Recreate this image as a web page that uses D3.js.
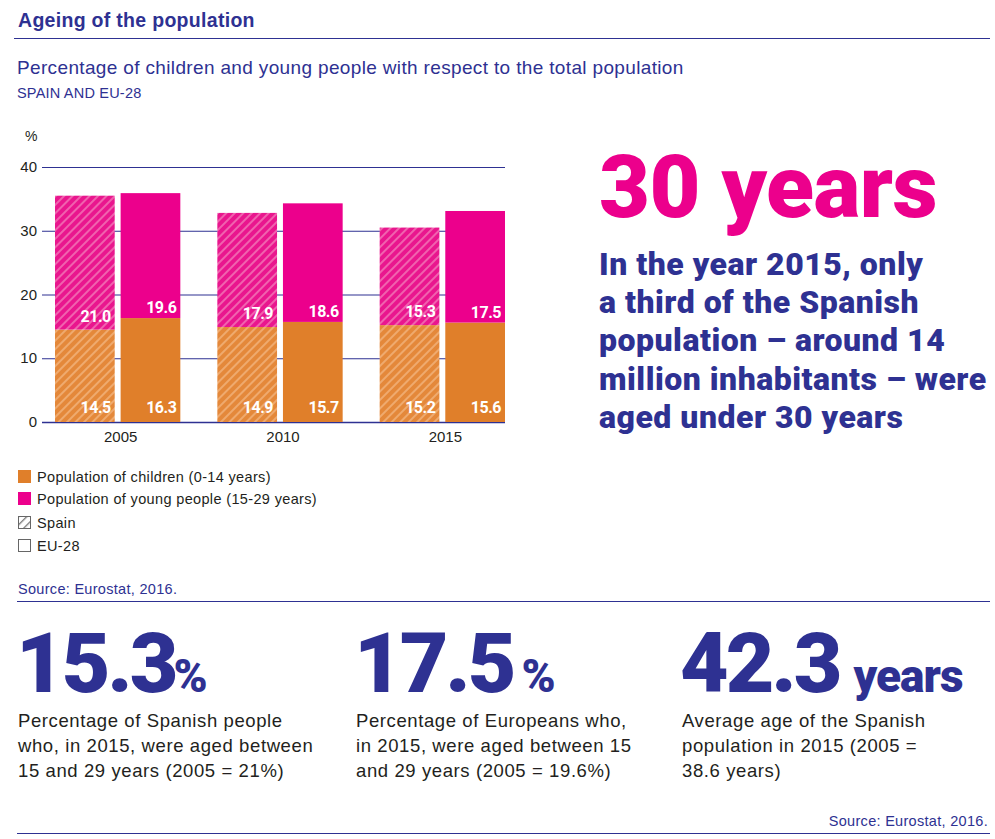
<!DOCTYPE html>
<html>
<head>
<meta charset="utf-8">
<script src="https://cdn.jsdelivr.net/npm/d3@7"></script>
<style>
  body { margin: 0; background: #fff; }
  svg { display: block; font-family: "Liberation Sans", Arial, sans-serif; }
  .heavy { font-family: Roboto, sans-serif; font-weight: 900; }
</style>
</head>
<body>
<div id="viz"></div>
<script>
// chart data
var years = ["2005", "2010", "2015"];
var regions = ["Spain", "EU-28"];
var childrenSpain = [14.5, 14.9, 15.2];
var youngSpain = [21.0, 17.9, 15.3];
var childrenEU = [16.3, 15.7, 15.6];
var youngEU = [19.6, 18.6, 17.5];
var yTicks = [0, 10, 20, 30, 40];
var legendItems = ["Population of children (0-14 years)", "Population of young people (15-29 years)", "Spain", "EU-28"];

var blue = "#2e3192", orange = "#e07f2a", pink = "#ec008c", ink = "#231f20";

var W = 995, H = 839;
var svg = d3.select("#viz").append("svg").attr("width", W).attr("height", H);

// hatch patterns for Spain
var defs = svg.append("defs");
function hatch(id, base, stripe, w) {
    var p = defs.append("pattern").attr("id", id)
        .attr("patternUnits", "userSpaceOnUse")
        .attr("width", 6).attr("height", 6)
        .attr("patternTransform", "rotate(45)");
    p.append("rect").attr("width", 6).attr("height", 6).attr("fill", base);
    p.append("rect").attr("width", w).attr("height", 6).attr("fill", stripe);
}
hatch("hOrange", "#e4883a", "#efaa6e", 2);
hatch("hPink", "#e9168e", "#f062ae", 2);
hatch("hGrey", "#fff", "#777", 1.3);

// header
svg.append("text").attr("x", 18).attr("y", 27).attr("fill", blue)
    .style("font-size", "19.5px").style("font-weight", 700).style("letter-spacing", "0.3px")
    .text("Ageing of the population");
svg.append("line").attr("x1", 14).attr("x2", 990).attr("y1", 38.5).attr("y2", 38.5)
    .attr("stroke", blue).attr("stroke-width", 1.2);
svg.append("text").attr("x", 17).attr("y", 74).attr("fill", blue)
    .style("font-size", "19px").style("letter-spacing", "0.35px")
    .text("Percentage of children and young people with respect to the total population");
svg.append("text").attr("x", 17).attr("y", 98).attr("fill", blue)
    .style("font-size", "14.5px").style("letter-spacing", "0.2px").text("SPAIN AND EU-28");

// chart
var left = 42, right = 505, chartTop = 167, chartBottom = 422;
var y = d3.scaleLinear().domain([0, 40]).range([chartBottom, chartTop]);
var x = d3.scaleBand().domain(years).range([55, right]).paddingInner(0.228).paddingOuter(0);
var xi = d3.scaleBand().domain(regions).range([0, x.bandwidth()]).paddingInner(0.09);

var g = svg.append("g");
g.selectAll("line.grid").data(yTicks).enter().append("line")
    .attr("x1", left).attr("x2", right)
    .attr("y1", function(d){ return y(d) + 0.5; }).attr("y2", function(d){ return y(d) + 0.5; })
    .attr("stroke", blue).attr("stroke-width", function(d){ return d === 0 ? 1.6 : 1.1; });
g.selectAll("text.tick").data(yTicks).enter().append("text")
    .attr("x", 37).attr("y", function(d){ return y(d) + 5; })
    .attr("text-anchor", "end").attr("fill", ink).style("font-size", "15px")
    .text(function(d){ return d; });
g.append("text").attr("x", 25).attr("y", 141).attr("fill", ink).style("font-size", "14px").text("%");

var rows = [];
years.forEach(function(yr, i){
    rows.push({year: yr, region: "Spain", child: childrenSpain[i], young: youngSpain[i]});
    rows.push({year: yr, region: "EU-28", child: childrenEU[i], young: youngEU[i]});
});

var bars = g.selectAll("g.bar").data(rows).enter().append("g")
    .attr("transform", function(d){ return "translate(" + (x(d.year) + xi(d.region)) + ",0)"; });

bars.append("rect").attr("width", xi.bandwidth())
    .attr("y", function(d){ return y(d.child); })
    .attr("height", function(d){ return y(0) - y(d.child); })
    .attr("fill", function(d){ return d.region === "Spain" ? "url(#hOrange)" : orange; });
bars.append("rect").attr("width", xi.bandwidth())
    .attr("y", function(d){ return y(d.child + d.young); })
    .attr("height", function(d){ return y(d.child) - y(d.child + d.young); })
    .attr("fill", function(d){ return d.region === "Spain" ? "url(#hPink)" : pink; });

function valLabel(sel, yFn, key) {
    sel.append("text").attr("x", xi.bandwidth() - 4).attr("y", yFn)
        .attr("text-anchor", "end").attr("fill", "#fff")
        .style("font-family", "Roboto, sans-serif")
        .style("font-size", "16px").style("font-weight", 700).style("letter-spacing", "-0.5px")
        .text(function(d){ return d[key].toFixed(1); });
}
valLabel(bars, function(){ return chartBottom - 9; }, "child");
valLabel(bars, function(d){ return y(d.child) - (d.region === "Spain" ? 8 : 5); }, "young");

g.selectAll("text.year").data(years).enter().append("text")
    .attr("x", function(d){ return x(d) + x.bandwidth() / 2 + 3; }).attr("y", 442)
    .attr("text-anchor", "middle").attr("fill", ink).style("font-size", "15px")
    .text(function(d){ return d; });

// legend
var leg = svg.append("g").selectAll("g").data(legendItems).enter().append("g")
    .attr("transform", function(d, i){ return "translate(18," + [470, 492, 516, 539][i] + ")"; });
leg.append("rect")
    .attr("x", function(d, i){ return i < 2 ? 0 : 0.5; }).attr("y", function(d, i){ return i < 2 ? 0 : 0.5; })
    .attr("width", function(d, i){ return i < 2 ? 13 : 12; }).attr("height", function(d, i){ return i < 2 ? 13 : 12; })
    .attr("fill", function(d, i){ return [orange, pink, "url(#hGrey)", "#fff"][i]; })
    .attr("stroke", function(d, i){ return i < 2 ? "none" : "#666"; }).attr("stroke-width", 1);
leg.append("text").attr("x", 19).attr("y", 12).attr("fill", ink)
    .style("font-size", "14.5px").style("letter-spacing", "0.35px")
    .text(function(d){ return d; });

svg.append("text").attr("x", 18).attr("y", 594).attr("fill", blue)
    .style("font-size", "14.5px").style("letter-spacing", "0.3px")
    .text("Source: Eurostat, 2016.");
svg.append("line").attr("x1", 17).attr("x2", 990).attr("y1", 601.5).attr("y2", 601.5)
    .attr("stroke", blue).attr("stroke-width", 1.2);

// headline on the right
svg.append("text").attr("class", "heavy").attr("x", 599).attr("y", 217).attr("fill", pink)
    .style("font-size", "88px").style("letter-spacing", "-0.5px")
    .text("30 years");
var para = ["In the year 2015, only", "a third of the Spanish", "population \u2013 around 14",
    "million inhabitants \u2013 were", "aged under 30 years"];
svg.append("g").selectAll("text").data(para).enter().append("text").attr("class", "heavy")
    .attr("x", 599).attr("y", function(d, i){ return 275 + i * 38.2; })
    .attr("fill", blue).style("font-size", "32px").style("letter-spacing", "0.5px")
    .text(function(d){ return d; });

// key figures
var figures = [
    {x: 16, big: "15.3", unit: "%", unitGap: -2, lines: ["Percentage of Spanish people", "who, in 2015, were aged between", "15 and 29 years (2005 = 21%)"]},
    {x: 354, big: "17.5", unit: "%", unitGap: 8, lines: ["Percentage of Europeans who,", "in 2015, were aged between 15", "and 29 years (2005 = 19.6%)"]},
    {x: 680, big: "42.3", unit: "years", unitGap: 14, lines: ["Average age of the Spanish", "population in 2015 (2005 =", "38.6 years)"]}
];
var fg = svg.append("g").selectAll("g").data(figures).enter().append("g")
    .attr("transform", function(d){ return "translate(" + d.x + ",0)"; });
fg.each(function(d){
    var s = d3.select(this);
    var t = s.append("text").attr("class", "heavy").attr("y", 692).attr("fill", blue)
        .style("font-size", "84px").style("letter-spacing", "-3px");
    t.append("tspan").text(d.big);
    t.append("tspan").attr("dx", d.unitGap).style("font-size", "46px").style("letter-spacing", "-1px").text(d.unit);
    s.selectAll("text.desc").data(d.lines).enter().append("text")
        .attr("x", 2).attr("y", function(l, i){ return 727 + i * 25; })
        .attr("fill", ink).style("font-size", "18.5px").style("letter-spacing", "0.6px")
        .text(function(l){ return l; });
});

svg.append("text").attr("x", 988).attr("y", 826).attr("text-anchor", "end").attr("fill", blue)
    .style("font-size", "14.5px").style("letter-spacing", "0.3px").text("Source: Eurostat, 2016.");
svg.append("line").attr("x1", 17).attr("x2", 990).attr("y1", 833.5).attr("y2", 833.5)
    .attr("stroke", blue).attr("stroke-width", 1.2);
</script>
</body>
</html>
